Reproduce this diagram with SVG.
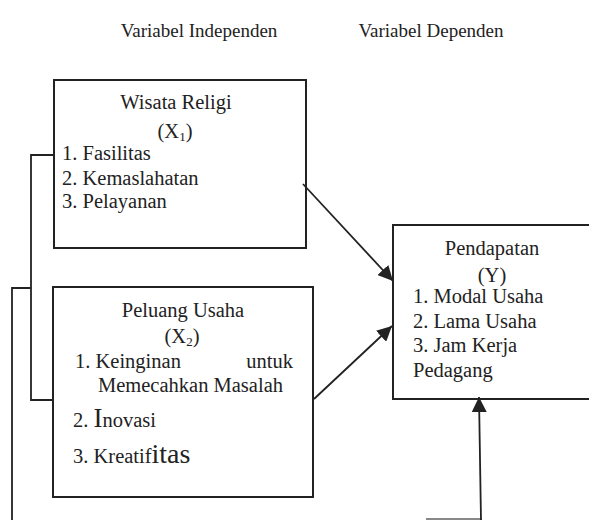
<svg xmlns="http://www.w3.org/2000/svg" width="589" height="520" viewBox="0 0 589 520">
<defs>
<style>
text{font-family:"Liberation Serif","Times New Roman",serif;fill:#222;font-size:20.5px}
.hdr{font-size:19px}
.box{fill:#fff;stroke:#222;stroke-width:2}
.ln{fill:none;stroke:#222;stroke-width:1.8}
.arr{fill:none;stroke:#222;stroke-width:1.8;marker-end:url(#ah)}
.big{font-size:28px}
</style>
<marker id="ah" viewBox="0 0 10 10" refX="10" refY="5" markerWidth="15" markerHeight="15" markerUnits="userSpaceOnUse" orient="auto">
<path d="M0,0 L10,5 L0,10 Z" fill="#222"/>
</marker>
</defs>
<rect width="589" height="520" fill="#fff"/>
<text class="hdr" x="199" y="37" text-anchor="middle">Variabel Independen</text>
<text class="hdr" x="431" y="37" text-anchor="middle">Variabel Dependen</text>

<g id="x1">
<rect class="box" x="54" y="80" width="252" height="168"/>
<text x="176" y="109" text-anchor="middle">Wisata Religi</text>
<text x="175" y="138" text-anchor="middle">(X<tspan font-size="13" dy="3">1</tspan><tspan dy="-3">)</tspan></text>
<text x="62" y="160">1. Fasilitas</text>
<text x="62" y="185">2. Kemaslahatan</text>
<text x="62" y="208">3. Pelayanan</text>
</g>

<g id="x2">
<rect class="box" x="53" y="287" width="260" height="210"/>
<text x="183" y="317" text-anchor="middle">Peluang Usaha</text>
<text x="182" y="343" text-anchor="middle">(X<tspan font-size="13" dy="3">2</tspan><tspan dy="-3">)</tspan></text>
<text x="75" y="368">1. Keinginan</text>
<text x="293" y="368" text-anchor="end">untuk</text>
<text x="98" y="392">Memecahkan Masalah</text>
<text x="73" y="427">2. <tspan font-size="27">I</tspan>novasi</text>
<text x="73" y="463">3. Kreatif<tspan class="big">itas</tspan></text>
</g>

<g id="y">
<rect class="box" x="393" y="225" width="199" height="174"/>
<text x="492" y="255" text-anchor="middle">Pendapatan</text>
<text x="492" y="282" text-anchor="middle">(Y)</text>
<text x="413" y="303">1. Modal Usaha</text>
<text x="413" y="328">2. Lama Usaha</text>
<text x="413" y="352">3. Jam Kerja</text>
<text x="413" y="377">Pedagang</text>
</g>

<g id="connectors">
<polyline class="ln" points="53,155 31,155 31,400 53,400"/>
<polyline class="ln" points="31,288 12,288 12,520"/>
<line x1="426" y1="519" x2="482" y2="519" stroke="#888" stroke-width="1.8"/>
<line class="arr" x1="303" y1="184" x2="393" y2="281"/>
<line class="arr" x1="314" y1="399" x2="392" y2="326"/>
<line class="arr" x1="481" y1="520" x2="479" y2="397"/>
</g>
</svg>
